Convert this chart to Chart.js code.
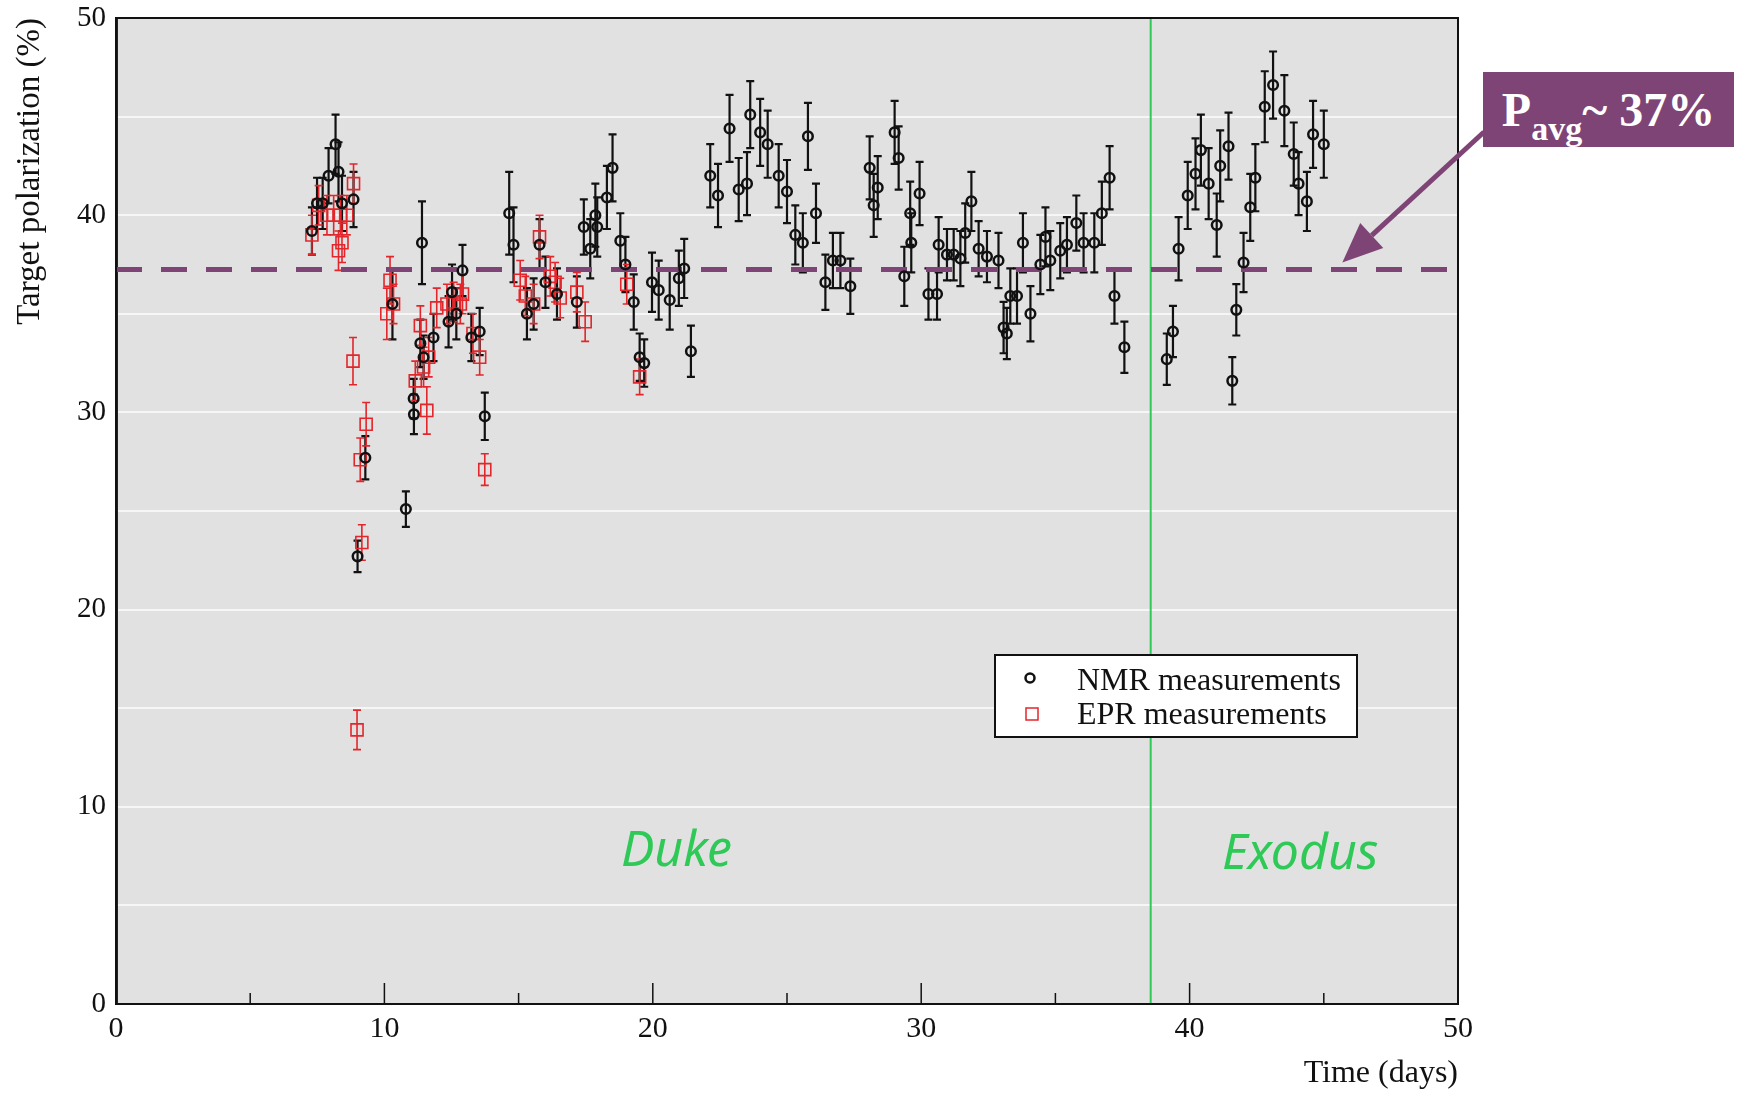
<!DOCTYPE html>
<html>
<head>
<meta charset="utf-8">
<script src="https://cdn.jsdelivr.net/npm/chart.js@4.4.0/dist/chart.umd.min.js"></script>
<style>
  html, body { margin: 0; padding: 0; background: #fff; }
  #wrap { position: relative; width: 1744px; height: 1093px; }
  #pavg {
    position: absolute; left: 1483px; top: 72px; width: 251px; height: 75px;
    background: #7e4476; color: #fff;
    font-family: 'Liberation Serif', serif; font-weight: bold; font-size: 48px;
    line-height: 75px; text-align: center; white-space: nowrap;
  }
  #pavg sub { font-size: 34px; vertical-align: -14px; line-height: 0; }
</style>
</head>
<body>
<div id="wrap">
  <canvas id="polChart" width="1744" height="1093"></canvas>
  <div id="pavg">P<sub>avg</sub>~ 37%</div>
</div>
<script>
// ---- data ----
const nmrDays = [7.30, 7.49, 7.70, 7.92, 8.18, 8.29, 8.42, 8.85, 9.00, 9.29,
  10.30, 10.80, 11.09, 11.10, 11.34, 11.40, 11.46, 11.83, 12.39, 12.52,
  12.68, 12.91, 13.24, 13.55, 13.74, 14.65, 14.81, 15.31, 15.56, 15.78,
  16.00, 16.43, 17.17, 17.43, 17.67, 17.86, 17.93, 18.29, 18.50, 18.79,
  18.98, 19.29, 19.51, 19.68, 19.97, 20.22, 20.63, 20.97, 21.17, 21.42,
  22.14, 22.43, 22.86, 23.20, 23.51, 23.63, 24.00, 24.28, 24.69, 25.00,
  25.31, 25.59, 25.78, 26.08, 26.43, 26.71, 26.99, 27.36, 28.08, 28.23,
  28.38, 29.01, 29.16, 29.37, 29.59, 29.63, 29.94, 30.27, 30.59, 30.65,
  30.96, 31.21, 31.46, 31.64, 31.87, 32.14, 32.45, 32.88, 33.07, 33.19,
  33.32, 33.57, 33.79, 34.07, 34.44, 34.63, 34.81, 35.18, 35.43, 35.78,
  36.05, 36.45, 36.73, 37.02, 37.20, 37.57, 39.15, 39.38, 39.59, 39.93,
  40.22, 40.42, 40.71, 41.01, 41.14, 41.45, 41.59, 41.74, 42.01, 42.26,
  42.45, 42.80, 43.11, 43.53, 43.88, 44.06, 44.37, 44.60, 45.00];
const nmrPol = [39.2, 40.6, 40.6, 42.0, 43.6, 42.2, 40.6, 40.8, 22.7, 27.7,
  35.5, 25.1, 30.7, 29.9, 33.5, 38.6, 32.8, 33.8, 34.6, 36.1,
  35.0, 37.2, 33.8, 34.1, 29.8, 40.1, 38.5, 35.0, 35.5, 38.5,
  36.6, 36.0, 35.6, 39.4, 38.3, 40.0, 39.4, 40.9, 42.4, 38.7,
  37.5, 35.6, 32.8, 32.5, 36.6, 36.2, 35.7, 36.8, 37.3, 33.1,
  42.0, 41.0, 44.4, 41.3, 41.6, 45.1, 44.2, 43.6, 42.0, 41.2,
  39.0, 38.6, 44.0, 40.1, 36.6, 37.7, 37.7, 36.4, 42.4, 40.5,
  41.4, 44.2, 42.9, 36.9, 40.1, 38.6, 41.1, 36.0, 36.0, 38.5,
  38.0, 38.0, 37.8, 39.1, 40.7, 38.3, 37.9, 37.7, 34.3, 34.0,
  35.9, 35.9, 38.6, 35.0, 37.5, 38.9, 37.7, 38.2, 38.5, 39.6,
  38.6, 38.6, 40.1, 41.9, 35.9, 33.3, 32.7, 34.1, 38.3, 41.0,
  42.1, 43.3, 41.6, 39.5, 42.5, 43.5, 31.6, 35.2, 37.6, 40.4,
  41.9, 45.5, 46.6, 45.3, 43.1, 41.6, 40.7, 44.1, 43.6];
const nmrErr = [1.2, 1.3, 1.3, 1.4, 1.5, 1.5, 1.4, 1.4, 0.8, 1.1,
  1.8, 0.9, 1.0, 1.0, 1.2, 2.1, 1.1, 1.2, 1.3, 1.4,
  1.3, 1.3, 1.2, 1.2, 1.2, 2.1, 1.9, 1.3, 1.3, 1.3,
  1.3, 1.3, 1.3, 1.4, 1.5, 1.6, 1.5, 1.6, 1.7, 1.4,
  1.4, 1.4, 1.2, 1.2, 1.5, 1.5, 1.5, 1.4, 1.5, 1.3,
  1.6, 1.6, 1.7, 1.6, 1.6, 1.7, 1.7, 1.7, 1.6, 1.6,
  1.5, 1.5, 1.7, 1.5, 1.4, 1.4, 1.4, 1.4, 1.6, 1.6,
  1.6, 1.6, 1.6, 1.5, 1.6, 1.5, 1.6, 1.3, 1.3, 1.4,
  1.3, 1.3, 1.4, 1.5, 1.5, 1.4, 1.3, 1.4, 1.3, 1.3,
  1.4, 1.4, 1.5, 1.4, 1.5, 1.5, 1.5, 1.4, 1.4, 1.4,
  1.5, 1.5, 1.6, 1.6, 1.4, 1.3, 1.3, 1.3, 1.6, 1.7,
  1.8, 1.8, 1.8, 1.6, 1.8, 1.7, 1.2, 1.3, 1.5, 1.7,
  1.7, 1.8, 1.7, 1.8, 1.6, 1.6, 1.5, 1.7, 1.7];

const eprDays = [7.30, 7.55, 7.86, 8.11, 8.29, 8.36, 8.42, 8.60, 8.83, 8.85,
  8.98, 9.10, 9.16, 9.32, 10.09, 10.21, 10.34, 11.15, 11.34, 11.46,
  11.58, 11.65, 11.95, 12.33, 12.58, 12.83, 12.91, 13.30, 13.55, 13.74,
  15.06, 15.25, 15.56, 15.78, 16.18, 16.36, 16.55, 17.17, 17.48, 19.03, 19.51];
const eprPol = [39.0, 40.5, 40.0, 40.0, 38.2, 40.0, 38.6, 40.0, 32.6, 41.6,
  13.9, 27.6, 23.4, 29.4, 35.0, 36.7, 35.5, 31.6, 34.4, 32.3,
  30.1, 32.8, 35.3, 35.5, 35.6, 35.5, 36.0, 34.0, 32.8, 27.1,
  36.7, 35.9, 35.5, 38.9, 36.9, 36.6, 35.8, 36.1, 34.6, 36.5, 31.8];
const eprErr = [1.0, 1.0, 1.0, 1.0, 1.0, 1.0, 1.0, 1.0, 1.2, 1.0,
  1.0, 1.1, 0.9, 1.1, 1.3, 1.2, 1.0, 1.0, 1.0, 1.0,
  1.2, 1.0, 1.0, 1.0, 1.0, 1.0, 1.0, 1.0, 0.9, 0.8,
  1.0, 1.0, 1.0, 1.1, 1.0, 1.0, 1.0, 1.0, 1.0, 1.0, 0.9];

const avgPol = 37.25;      // dashed average line
const exodusStart = 38.55; // green separator (days)
const seriesNames = ['NMR measurements', 'EPR measurements'];
const periodNames = ['Duke', 'Exodus'];

// ---- colours ----
const purple = '#7e4476';
const green = '#2fc957';
const eprRed = '#e3262b';

const pts = (xs, ys) => xs.map((d, i) => ({ x: d, y: ys[i] }));

const decor = {
    id: 'decor',
    beforeDraw(chart) {
        const { ctx, chartArea: a } = chart;
        ctx.save();
        ctx.fillStyle = '#e1e1e1';
        ctx.fillRect(a.left, a.top, a.right - a.left, a.bottom - a.top);
        ctx.restore();
    },
    beforeDatasetsDraw(chart) {
        // error bars under the markers
        const { ctx, scales: { x, y } } = chart;
        chart.data.datasets.forEach(ds => {
            if (!ds.errs) return;
            ctx.save();
            ctx.strokeStyle = ds.borderColor;
            ctx.lineWidth = ds.errWidth;
            ds.data.forEach((p, j) => {
                const px = x.getPixelForValue(p.x);
                const y1 = y.getPixelForValue(p.y - ds.errs[j]);
                const y2 = y.getPixelForValue(p.y + ds.errs[j]);
                ctx.beginPath();
                ctx.moveTo(px, y1); ctx.lineTo(px, y2);
                ctx.moveTo(px - 4, y1); ctx.lineTo(px + 4, y1);
                ctx.moveTo(px - 4, y2); ctx.lineTo(px + 4, y2);
                ctx.stroke();
            });
            ctx.restore();
        });
    },
    afterDraw(chart) {
        const { ctx, chartArea: a, scales: { x, y } } = chart;
        ctx.save();

        // frame
        ctx.strokeStyle = '#111';
        ctx.lineWidth = 2;
        ctx.strokeRect(a.left, a.top, a.right - a.left, a.bottom - a.top);

        // inward x ticks
        ctx.lineWidth = 1.5;
        for (let v = 5; v < 50; v += 5) {
            const px = x.getPixelForValue(v);
            ctx.beginPath();
            ctx.moveTo(px, a.bottom);
            ctx.lineTo(px, a.bottom - (v % 10 === 0 ? 21 : 11));
            ctx.stroke();
        }

        // period labels
        ctx.fillStyle = green;
        ctx.font = 'italic 50px "Noto Sans", sans-serif';
        ctx.textAlign = 'center';
        ctx.textBaseline = 'middle';
        ctx.fillText(periodNames[0], x.getPixelForValue(20.88), y.getPixelForValue(7.72));
        ctx.fillText(periodNames[1], x.getPixelForValue(44.12), y.getPixelForValue(7.57));

        // legend box
        ctx.fillStyle = '#fff';
        ctx.fillRect(995, 655, 362, 82);
        ctx.strokeStyle = '#111';
        ctx.lineWidth = 2;
        ctx.strokeRect(995, 655, 362, 82);
        ctx.lineWidth = 2.5;
        ctx.beginPath();
        ctx.arc(1030, 678, 4.5, 0, Math.PI * 2);
        ctx.stroke();
        ctx.strokeStyle = eprRed;
        ctx.lineWidth = 1.5;
        ctx.strokeRect(1026, 708, 12, 12);
        ctx.fillStyle = '#111';
        ctx.font = '32px "Liberation Serif", serif';
        ctx.textAlign = 'left';
        ctx.textBaseline = 'alphabetic';
        ctx.fillText(seriesNames[0], 1077, 690);
        ctx.fillText(seriesNames[1], 1077, 724);

        // arrow from the P_avg box to the dashed line
        const tx = x.getPixelForValue(45.69), ty = y.getPixelForValue(avgPol + 0.35);
        const sx = 1484, sy = 132;
        const ang = Math.atan2(ty - sy, tx - sx);
        const headLen = 40, headW = 17;
        const bx = tx - headLen * Math.cos(ang), by = ty - headLen * Math.sin(ang);
        ctx.strokeStyle = purple;
        ctx.fillStyle = purple;
        ctx.lineWidth = 5;
        ctx.beginPath();
        ctx.moveTo(sx, sy);
        ctx.lineTo(bx, by);
        ctx.stroke();
        ctx.beginPath();
        ctx.moveTo(tx, ty);
        ctx.lineTo(bx + headW * Math.sin(ang), by - headW * Math.cos(ang));
        ctx.lineTo(bx - headW * Math.sin(ang), by + headW * Math.cos(ang));
        ctx.closePath();
        ctx.fill();

        ctx.restore();
    }
};

const ctx = document.getElementById('polChart').getContext('2d');
new Chart(ctx, {
    type: 'scatter',
    data: {
        datasets: [
            {
                label: seriesNames[0],
                data: pts(nmrDays, nmrPol),
                errs: nmrErr,
                errWidth: 2.2,
                pointStyle: 'circle',
                pointRadius: 4.8,
                borderColor: '#111',
                borderWidth: 2.5,
                backgroundColor: 'rgba(0,0,0,0)',
                order: 1
            },
            {
                label: seriesNames[1],
                data: pts(eprDays, eprPol),
                errs: eprErr,
                errWidth: 1.6,
                pointStyle: 'rect',
                pointRadius: 8.5,
                borderColor: eprRed,
                borderWidth: 1.6,
                backgroundColor: 'rgba(0,0,0,0)',
                order: 2
            },
            {
                label: 'avg',
                data: [{ x: 0, y: avgPol }, { x: 50, y: avgPol }],
                showLine: true,
                pointRadius: 0,
                borderColor: purple,
                borderWidth: 5,
                borderDash: [26, 19],
                order: 3
            },
            {
                label: 'exodus',
                data: [{ x: exodusStart, y: 0 }, { x: exodusStart, y: 50 }],
                showLine: true,
                pointRadius: 0,
                borderColor: green,
                borderWidth: 2,
                order: 4
            }
        ]
    },
    options: {
        responsive: false,
        animation: false,
        layout: { padding: { left: 0, top: 18, right: 286, bottom: 0 } },
        scales: {
            x: {
                type: 'linear',
                min: 0, max: 50,
                afterFit: s => { s.height = 89; s.paddingLeft = 0; s.paddingRight = 0; },
                grid: { display: false, drawTicks: false },
                border: { display: true, color: '#111', width: 2 },
                ticks: {
                    stepSize: 10,
                    padding: 7,
                    color: '#111',
                    font: { family: '"Liberation Serif", serif', size: 30 }
                },
                title: {
                    display: true,
                    text: 'Time (days)',
                    align: 'end',
                    color: '#111',
                    padding: { top: 0, bottom: 0 },
                    font: { family: '"Liberation Serif", serif', size: 32 }
                }
            },
            y: {
                min: 0, max: 50,
                afterFit: s => { s.width = 116; s.paddingTop = 0; s.paddingBottom = 0; },
                grid: { color: '#f6f6f6', lineWidth: 2, drawTicks: false },
                border: { display: true, color: '#222', width: 3 },
                ticks: {
                    stepSize: 5,
                    padding: 10,
                    color: '#111',
                    font: { family: '"Liberation Serif", serif', size: 29 },
                    callback: v => (v % 10 === 0 ? v : '')
                },
                title: {
                    display: true,
                    text: 'Target polarization (%)',
                    align: 'end',
                    color: '#111',
                    padding: { top: 11, bottom: 0 },
                    font: { family: '"Liberation Serif", serif', size: 33 }
                }
            }
        },
        plugins: {
            legend: { display: false },
            tooltip: { enabled: false }
        }
    },
    plugins: [decor]
});
</script>
</body>
</html>
